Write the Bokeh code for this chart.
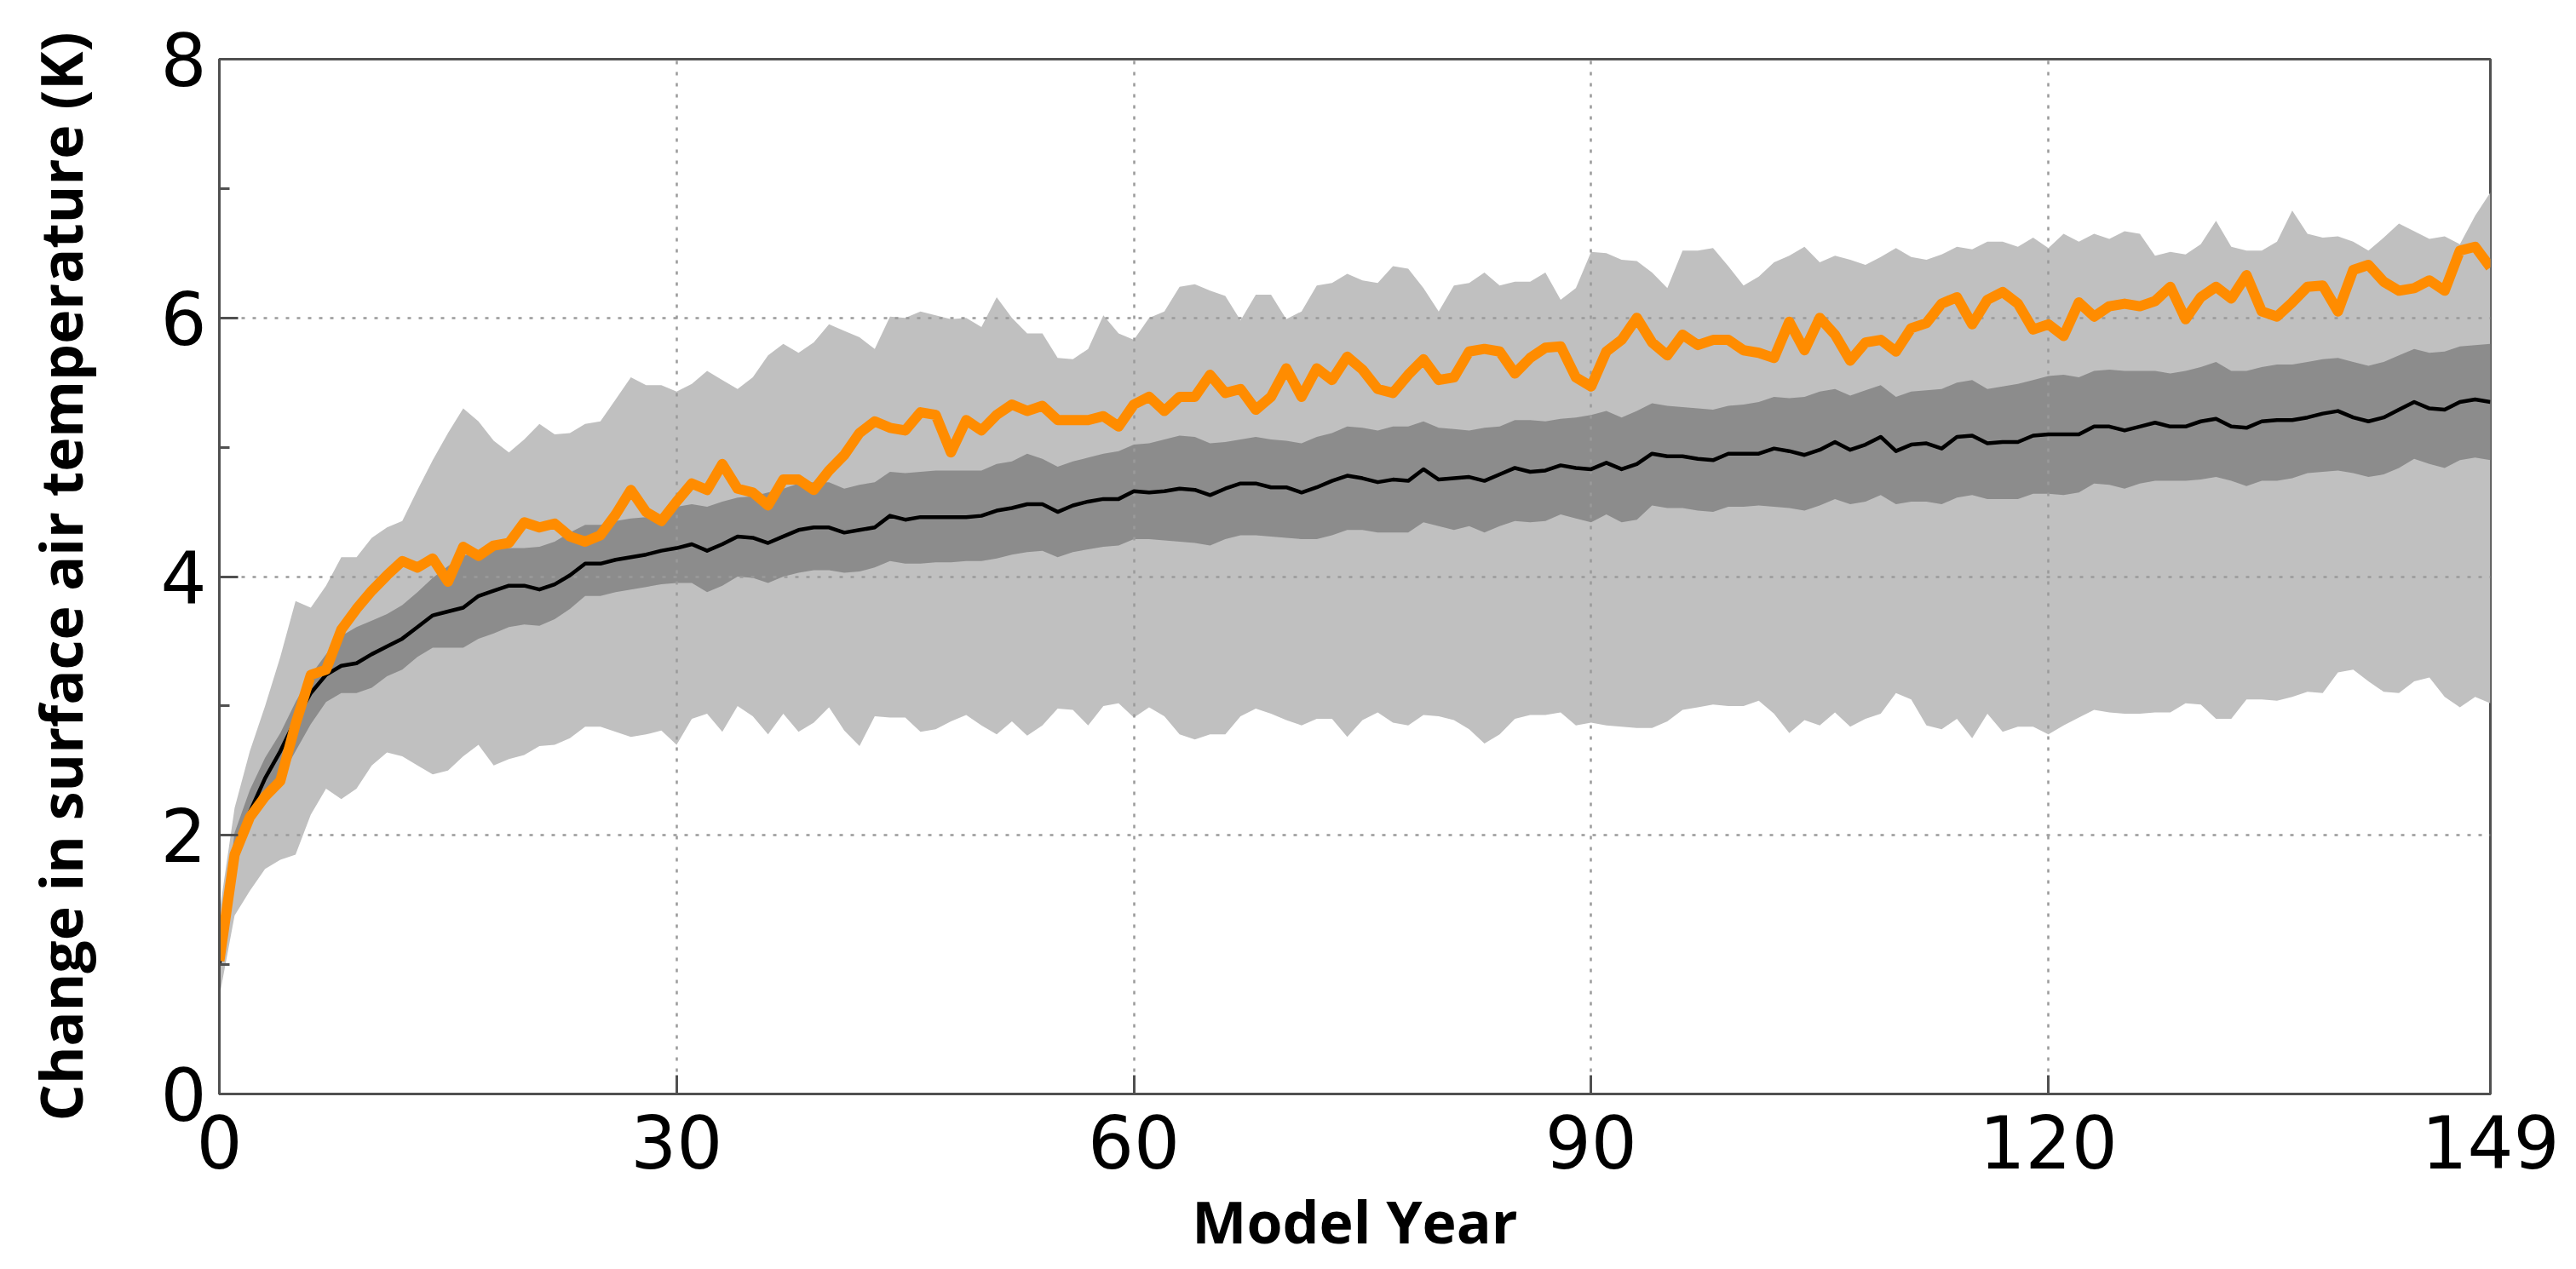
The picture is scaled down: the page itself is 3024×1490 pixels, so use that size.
from bokeh.plotting import figure
from bokeh.models import FixedTicker, Range1d, ColumnDataSource
from bokeh.embed import file_html
from bokeh.resources import INLINE

years = list(range(150))

orange_run = [
    1.03, 1.85, 2.14, 2.30, 2.42, 2.86, 3.24, 3.28, 3.59, 3.75,
    3.89, 4.01, 4.12, 4.07, 4.14, 3.96, 4.23, 4.16, 4.24, 4.26,
    4.42, 4.38, 4.41, 4.31, 4.27, 4.32, 4.48, 4.67, 4.50, 4.43,
    4.58, 4.72, 4.67, 4.87, 4.68, 4.65, 4.55, 4.75, 4.75, 4.67,
    4.82, 4.94, 5.11, 5.20, 5.15, 5.13, 5.27, 5.25, 4.96, 5.21,
    5.13, 5.25, 5.33, 5.28, 5.32, 5.21, 5.21, 5.21, 5.24, 5.16,
    5.33, 5.39, 5.28, 5.39, 5.39, 5.56, 5.42, 5.45, 5.29, 5.39,
    5.61, 5.39, 5.61, 5.52, 5.70, 5.60, 5.45, 5.42, 5.56, 5.68,
    5.52, 5.54, 5.74, 5.76, 5.74, 5.57, 5.69, 5.77, 5.78, 5.54,
    5.47, 5.74, 5.83, 6.00, 5.81, 5.71, 5.87, 5.79, 5.83, 5.83,
    5.75, 5.73, 5.69, 5.97, 5.75, 6.00, 5.87, 5.67, 5.81, 5.83,
    5.74, 5.92, 5.96, 6.11, 6.16, 5.95, 6.14, 6.20, 6.11, 5.91,
    5.95, 5.86, 6.12, 6.01, 6.09, 6.11, 6.09, 6.13, 6.24, 5.99,
    6.16, 6.24, 6.15, 6.33, 6.05, 6.01, 6.12, 6.24, 6.25, 6.05,
    6.37, 6.41, 6.28, 6.21, 6.23, 6.29, 6.21, 6.52, 6.55, 6.39,
]

ensemble_mean = [
    1.00, 1.83, 2.18, 2.44, 2.65, 2.89, 3.10, 3.24, 3.31, 3.33,
    3.40, 3.46, 3.52, 3.61, 3.70, 3.73, 3.76, 3.85, 3.89, 3.93,
    3.93, 3.90, 3.94, 4.01, 4.10, 4.10, 4.13, 4.15, 4.17, 4.20,
    4.22, 4.25, 4.20, 4.25, 4.31, 4.30, 4.26, 4.31, 4.36, 4.38,
    4.38, 4.34, 4.36, 4.38, 4.47, 4.44, 4.46, 4.46, 4.46, 4.46,
    4.47, 4.51, 4.53, 4.56, 4.56, 4.50, 4.55, 4.58, 4.60, 4.60,
    4.66, 4.65, 4.66, 4.68, 4.67, 4.63, 4.68, 4.72, 4.72, 4.69,
    4.69, 4.65, 4.69, 4.74, 4.78, 4.76, 4.73, 4.75, 4.74, 4.83,
    4.75, 4.76, 4.77, 4.74, 4.79, 4.84, 4.81, 4.82, 4.86, 4.84,
    4.83, 4.88, 4.83, 4.87, 4.95, 4.93, 4.93, 4.91, 4.90, 4.95,
    4.95, 4.95, 4.99, 4.97, 4.94, 4.98, 5.04, 4.98, 5.02, 5.08,
    4.97, 5.02, 5.03, 4.99, 5.08, 5.09, 5.03, 5.04, 5.04, 5.09,
    5.10, 5.10, 5.10, 5.16, 5.16, 5.13, 5.16, 5.19, 5.16, 5.16,
    5.20, 5.22, 5.16, 5.15, 5.20, 5.21, 5.21, 5.23, 5.26, 5.28,
    5.23, 5.20, 5.23, 5.29, 5.35, 5.30, 5.29, 5.35, 5.37, 5.35,
]

inner_upper = [
    1.08, 2.02, 2.35, 2.60, 2.79, 3.03, 3.24, 3.40, 3.54, 3.61,
    3.66, 3.71, 3.78, 3.88, 3.99, 4.08, 4.16, 4.20, 4.22, 4.22,
    4.22, 4.23, 4.27, 4.34, 4.40, 4.40, 4.43, 4.45, 4.46, 4.48,
    4.54, 4.56, 4.54, 4.58, 4.61, 4.62, 4.65, 4.68, 4.72, 4.73,
    4.73, 4.68, 4.71, 4.73, 4.81, 4.80, 4.81, 4.82, 4.82, 4.82,
    4.82, 4.87, 4.89, 4.95, 4.91, 4.85, 4.89, 4.92, 4.95, 4.97,
    5.02, 5.03, 5.06, 5.09, 5.08, 5.03, 5.04, 5.06, 5.08, 5.06,
    5.05, 5.03, 5.08, 5.11, 5.16, 5.15, 5.13, 5.16, 5.16, 5.20,
    5.15, 5.14, 5.13, 5.15, 5.16, 5.21, 5.21, 5.20, 5.22, 5.23,
    5.25, 5.28, 5.23, 5.28, 5.34, 5.32, 5.31, 5.30, 5.29, 5.32,
    5.33, 5.35, 5.39, 5.38, 5.39, 5.43, 5.45, 5.40, 5.44, 5.48,
    5.39, 5.43, 5.44, 5.45, 5.50, 5.52, 5.45, 5.47, 5.49, 5.52,
    5.55, 5.56, 5.54, 5.59, 5.60, 5.59, 5.59, 5.59, 5.57, 5.59,
    5.62, 5.66, 5.59, 5.59, 5.62, 5.64, 5.64, 5.66, 5.68, 5.69,
    5.66, 5.63, 5.66, 5.71, 5.76, 5.73, 5.74, 5.78, 5.79, 5.80,
]

inner_lower = [
    0.95, 1.74, 2.07, 2.28, 2.44, 2.65, 2.86, 3.03, 3.10, 3.10,
    3.14, 3.23, 3.28, 3.38, 3.45, 3.45, 3.45, 3.52, 3.56, 3.61,
    3.63, 3.62, 3.67, 3.75, 3.85, 3.85, 3.88, 3.90, 3.92, 3.94,
    3.95, 3.95, 3.88, 3.93, 4.00, 3.99, 3.95, 4.00, 4.03, 4.05,
    4.05, 4.03, 4.04, 4.07, 4.12, 4.10, 4.10, 4.11, 4.11, 4.12,
    4.12, 4.14, 4.17, 4.19, 4.20, 4.15, 4.19, 4.21, 4.23, 4.24,
    4.29, 4.29, 4.28, 4.27, 4.26, 4.24, 4.29, 4.32, 4.32, 4.31,
    4.30, 4.29, 4.29, 4.32, 4.36, 4.36, 4.34, 4.34, 4.34, 4.42,
    4.39, 4.36, 4.39, 4.34, 4.39, 4.43, 4.42, 4.43, 4.48, 4.45,
    4.42, 4.48, 4.42, 4.44, 4.55, 4.53, 4.53, 4.51, 4.50, 4.54,
    4.54, 4.55, 4.54, 4.53, 4.51, 4.55, 4.60, 4.56, 4.58, 4.63,
    4.56, 4.58, 4.58, 4.56, 4.61, 4.63, 4.60, 4.60, 4.60, 4.64,
    4.64, 4.63, 4.65, 4.72, 4.71, 4.68, 4.72, 4.74, 4.74, 4.74,
    4.75, 4.77, 4.74, 4.70, 4.74, 4.74, 4.76, 4.80, 4.81, 4.82,
    4.80, 4.77, 4.79, 4.84, 4.91, 4.87, 4.84, 4.90, 4.92, 4.90,
]

outer_upper = [
    1.40, 2.21, 2.65, 3.00, 3.38, 3.81, 3.76, 3.93, 4.15, 4.15,
    4.30, 4.38, 4.43, 4.67, 4.90, 5.11, 5.30, 5.20, 5.05, 4.96,
    5.06, 5.18, 5.10, 5.11, 5.18, 5.20, 5.37, 5.54, 5.48, 5.48,
    5.43, 5.49, 5.59, 5.52, 5.45, 5.54, 5.71, 5.80, 5.73, 5.81,
    5.95, 5.90, 5.85, 5.76, 6.01, 6.00, 6.05, 6.02, 5.99, 6.00,
    5.93, 6.16, 6.00, 5.88, 5.88, 5.69, 5.68, 5.76, 6.02, 5.88,
    5.83, 6.00, 6.05, 6.24, 6.26, 6.21, 6.17, 5.98, 6.18, 6.18,
    5.99, 6.05, 6.25, 6.27, 6.34, 6.29, 6.27, 6.40, 6.38, 6.23,
    6.05, 6.25, 6.27, 6.35, 6.25, 6.28, 6.28, 6.35, 6.14, 6.23,
    6.51, 6.50, 6.45, 6.44, 6.35, 6.23, 6.52, 6.52, 6.54, 6.40,
    6.25, 6.32, 6.43, 6.48, 6.55, 6.43, 6.48, 6.45, 6.41, 6.47,
    6.54, 6.47, 6.45, 6.49, 6.55, 6.53, 6.59, 6.59, 6.55, 6.62,
    6.54, 6.65, 6.59, 6.65, 6.61, 6.67, 6.65, 6.48, 6.51, 6.49,
    6.57, 6.75, 6.55, 6.52, 6.52, 6.59, 6.83, 6.65, 6.62, 6.63,
    6.59, 6.52, 6.62, 6.73, 6.67, 6.61, 6.63, 6.57, 6.79, 6.97,
]

outer_lower = [
    0.75, 1.38, 1.57, 1.74, 1.81, 1.85, 2.16, 2.36, 2.28, 2.36,
    2.54, 2.64, 2.61, 2.54, 2.47, 2.50, 2.61, 2.70, 2.54, 2.59,
    2.62, 2.69, 2.70, 2.75, 2.84, 2.84, 2.80, 2.76, 2.78, 2.81,
    2.70, 2.90, 2.94, 2.80, 3.00, 2.92, 2.78, 2.94, 2.80, 2.87,
    2.99, 2.81, 2.69, 2.92, 2.91, 2.91, 2.80, 2.82, 2.88, 2.93,
    2.85, 2.78, 2.88, 2.77, 2.85, 2.98, 2.97, 2.85, 3.00, 3.02,
    2.91, 2.99, 2.92, 2.78, 2.74, 2.78, 2.78, 2.92, 2.98, 2.94,
    2.89, 2.85, 2.90, 2.90, 2.76, 2.89, 2.95, 2.87, 2.85, 2.93,
    2.92, 2.89, 2.82, 2.71, 2.78, 2.90, 2.93, 2.93, 2.95, 2.85,
    2.87, 2.85, 2.84, 2.83, 2.83, 2.88, 2.97, 2.99, 3.01, 3.00,
    3.00, 3.04, 2.94, 2.79, 2.89, 2.85, 2.95, 2.84, 2.90, 2.94,
    3.10, 3.05, 2.85, 2.82, 2.90, 2.75, 2.94, 2.80, 2.84, 2.84,
    2.78, 2.85, 2.91, 2.97, 2.95, 2.94, 2.94, 2.95, 2.95, 3.02,
    3.01, 2.90, 2.90, 3.05, 3.05, 3.04, 3.07, 3.11, 3.10, 3.26,
    3.28, 3.19, 3.11, 3.10, 3.19, 3.22, 3.07, 2.99, 3.07, 3.02,
]

x_ticks = [0, 30, 60, 90, 120, 149]
y_ticks = [0, 2, 4, 6, 8]
y_minor_ticks = [1, 3, 5, 7]
x_title = "Model Year"
y_title = "Change in surface air temperature (K)"

source = ColumnDataSource(dict(
    year=years, run=orange_run, mean=ensemble_mean,
    in_lo=inner_lower, in_hi=inner_upper,
    out_lo=outer_lower, out_hi=outer_upper,
))

p = figure(width=3008, height=1482, output_backend="svg", toolbar_location=None,
           x_range=Range1d(0, 149), y_range=Range1d(0, 8),
           min_border_left=257, min_border_right=85,
           min_border_top=69, min_border_bottom=193)
p.background_fill_color = "white"
p.border_fill_color = "white"
p.outline_line_color = "#505050"
p.outline_line_width = 3

r1 = p.varea(x="year", y1="out_lo", y2="out_hi", source=source, fill_color="#c0c0c0")
r2 = p.varea(x="year", y1="in_lo", y2="in_hi", source=source, fill_color="#8c8c8c")
r1.level = "underlay"
r2.level = "underlay"
p.line(x="year", y="mean", source=source, line_color="black", line_width=4.5, line_join="round")
p.line(x="year", y="run", source=source, line_color="#ff8c00", line_width=12, line_join="round")

# grid
p.xgrid.ticker = FixedTicker(ticks=[30, 60, 90, 120])
p.ygrid.ticker = FixedTicker(ticks=[2, 4, 6])
for g in (p.xgrid[0], p.ygrid[0]):
    g.grid_line_color = "#9a9a9a"
    g.grid_line_width = 2.5
    g.grid_line_dash = "4 9"

# axes
p.xaxis.ticker = FixedTicker(ticks=x_ticks)
p.yaxis.ticker = FixedTicker(ticks=y_ticks, minor_ticks=y_minor_ticks)
for ax in (p.xaxis[0], p.yaxis[0]):
    ax.axis_line_color = "#505050"
    ax.axis_line_width = 3
    ax.major_tick_line_color = "#505050"
    ax.major_tick_line_width = 3
    ax.major_tick_in = 22
    ax.major_tick_out = 0
    ax.minor_tick_line_color = "#505050"
    ax.minor_tick_line_width = 3
    ax.minor_tick_in = 12
    ax.minor_tick_out = 0
    ax.major_label_text_font = "DejaVu Sans"
    ax.major_label_text_font_size = "85px"
    ax.major_label_text_color = "black"
    ax.axis_label_text_font = "Open Sans"
    ax.axis_label_text_font_style = "bold"
    ax.axis_label_text_color = "black"

p.xaxis.axis_label = x_title
p.yaxis.axis_label = y_title
p.xaxis.axis_label_text_font_size = "68px"
p.yaxis.axis_label_text_font_size = "68px"
p.xaxis.major_label_standoff = 24
p.xaxis.axis_label_standoff = 12
p.yaxis.major_label_standoff = 15
p.yaxis.axis_label_standoff = 68

open("out.html", "w").write(file_html(p, INLINE))
